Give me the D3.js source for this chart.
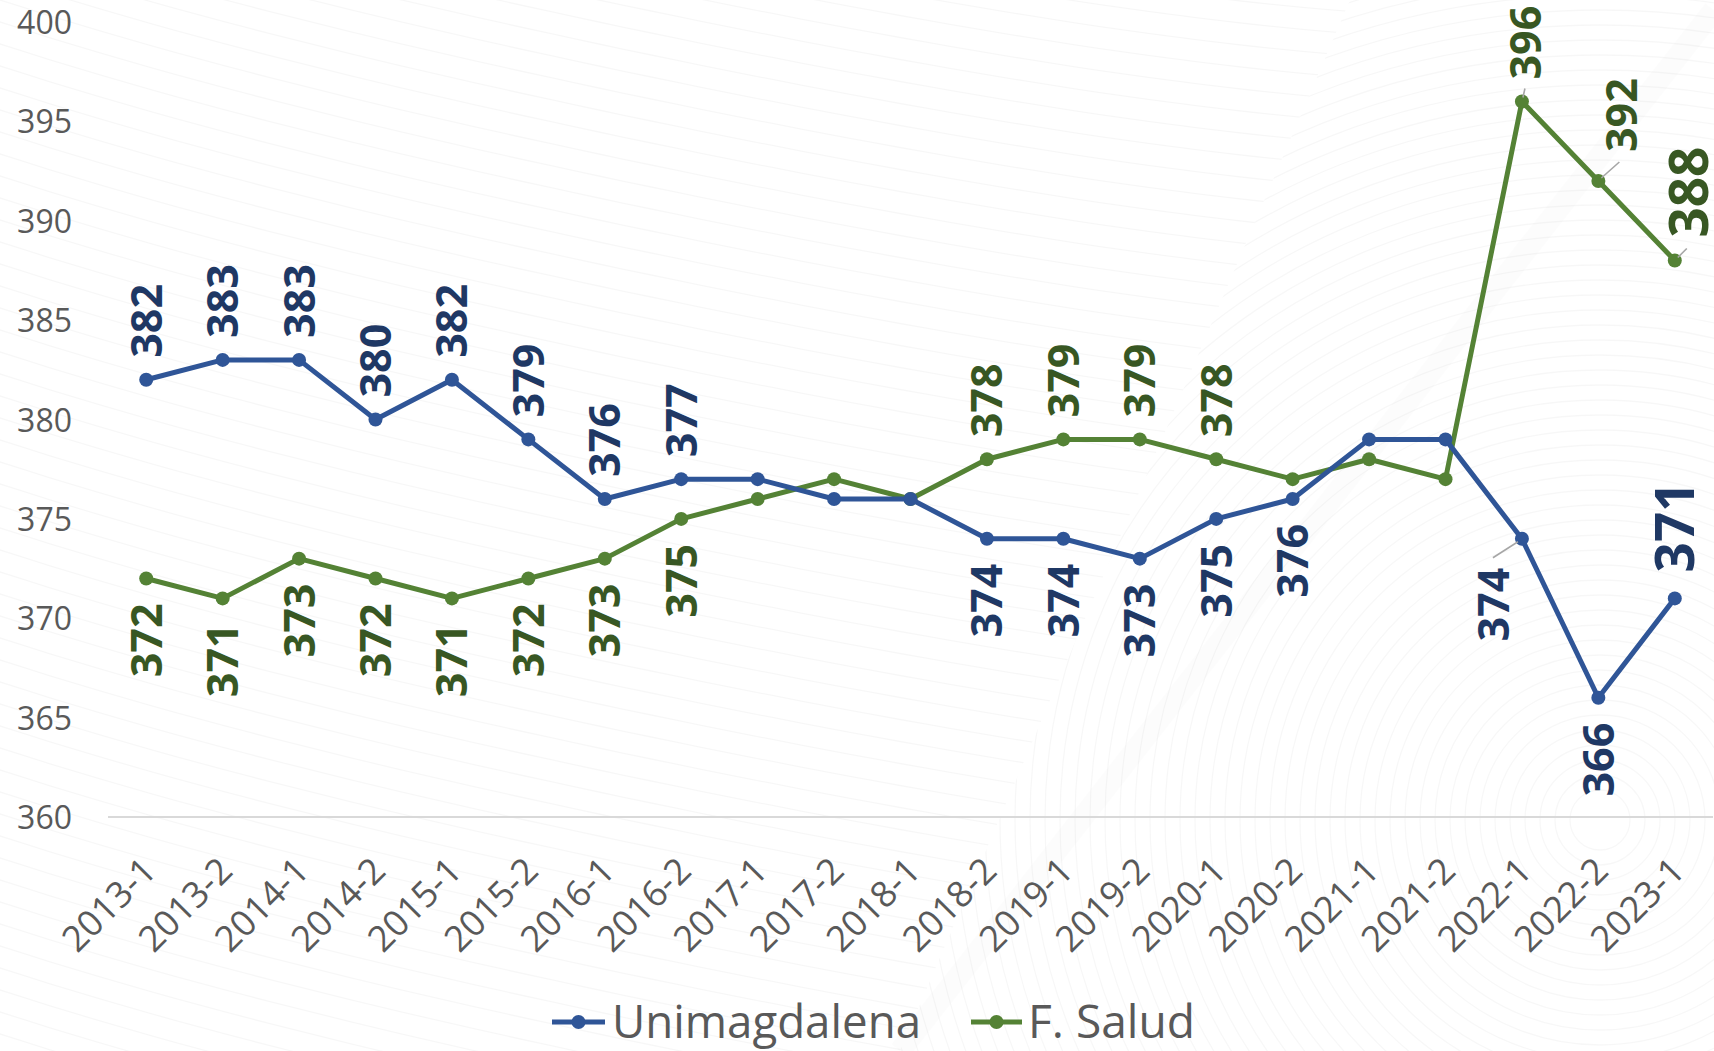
<!DOCTYPE html>
<html>
<head>
<meta charset="utf-8">
<script src="https://cdn.jsdelivr.net/npm/d3@7/dist/d3.min.js"></script>
<style>
  html, body { margin: 0; padding: 0; background: #ffffff; }
  svg { display: block; }
</style>
</head>
<body>
<svg id="chart" width="1714" height="1051"></svg>
<script>
// ---------- DATA ----------
const categories = ["2013-1","2013-2","2014-1","2014-2","2015-1","2015-2","2016-1","2016-2",
  "2017-1","2017-2","2018-1","2018-2","2019-1","2019-2","2020-1","2020-2",
  "2021-1","2021-2","2022-1","2022-2","2023-1"];
const unimagdalena = [382,383,383,380,382,379,376,377,377,376,376,374,374,373,375,376,379,379,374,366,371];
const fSalud       = [372,371,373,372,371,372,373,375,376,377,376,378,379,379,378,377,378,377,396,392,388];
const yTicks = [360,365,370,375,380,385,390,395,400];
const seriesNames = ["Unimagdalena","F. Salud"];

// label placement per point: "a" above, "b" below, "" none
const uniLabelSide   = ["a","a","a","a","a","a","a","a","","","","b","b","b","b","b","","","b","b","a"];
const saludLabelSide = ["b","b","b","b","b","b","b","b","","","","a","a","a","a","","","","a","a","a"];

// ---------- LAYOUT / STYLE ----------
const W = 1714, H = 1051;
const plot = { left: 108, right: 1713, top: 22, bottom: 817 };
const colors = {
  uniLine: "#2F5597", uniLabel: "#1F3864",
  salLine: "#548235", salLabel: "#385723",
  axisText: "#595959", grid: "#D9D9D9", leader: "#A6A6A6"
};
// special label tweaks (pixel offsets relative to the point), keyed by "series:index"
const special = {
  "0:18": { dx: -28, off: 29, leader: [[-4, 3], [-29, 19]] },
  "0:20": { big: true, off: 26 },
  "1:18": { dx: 4, off: 22, leader: [[1, -4], [3, -13]] },
  "1:19": { dx: 23, off: 29, leader: [[3, -3], [21, -19]] },
  "1:20": { dx: 14, off: 23, big: true, leader: [[3, -3], [12, -12]] }
};

const svg = d3.select("#chart");

// ---------- BACKGROUND DECORATION ----------
const bg = svg.append("g").attr("class", "bg");
bg.append("rect").attr("width", W).attr("height", H).attr("fill", "#ffffff");
const defs = svg.append("defs");
defs.append("clipPath").attr("id", "rightClip")
  .append("path").attr("d", "M900,1051 L1714,1051 L1714,0 L1350,0 Z");
defs.append("clipPath").attr("id", "leftClip")
  .append("path").attr("d", "M0,0 L1350,0 L900,1051 L0,1051 Z");
const waveG = bg.append("g").attr("clip-path", "url(#leftClip)");
for (let i = -30; i < 70; i++) {
  const pts = d3.range(-50, 1500, 25).map(x => [x, i * 22 + 0.42 * x * (1 - x / 2600) - 40 * Math.sin(x / 420)]);
  waveG.append("path")
    .attr("d", d3.line().curve(d3.curveBasis)(pts))
    .attr("fill", "none").attr("stroke", "#000").attr("stroke-opacity", 0.03).attr("stroke-width", 1.3);
}
const arcG = bg.append("g").attr("clip-path", "url(#rightClip)");
for (let r = 30; r < 1100; r += 15) {
  arcG.append("circle").attr("cx", 1600).attr("cy", 820).attr("r", r)
    .attr("fill", "none").attr("stroke", "#000").attr("stroke-opacity", 0.03).attr("stroke-width", 1.3);
}
bg.append("line").attr("x1", 900).attr("y1", 1051).attr("x2", 1714).attr("y2", 10)
  .attr("stroke", "#000").attr("stroke-opacity", 0.012).attr("stroke-width", 22);

// ---------- SCALES ----------
const x = d3.scaleBand().domain(categories).range([plot.left, plot.right]).padding(0);
const cx = c => x(c) + x.bandwidth() / 2;
const y = d3.scaleLinear().domain([360, 400]).range([plot.bottom, plot.top]);

// ---------- AXES ----------
const yAxis = d3.axisLeft(y).tickValues(yTicks).tickSize(0).tickPadding(0);
const yg = svg.append("g").attr("transform", "translate(72,0)").call(yAxis);
yg.select(".domain").remove();
yg.selectAll("text")
  .attr("font-family", "'Open Sans', sans-serif").attr("font-size", 32)
  .attr("fill", colors.axisText).attr("dy", "0.36em").attr("x", 0);

// baseline gridline (only the 360 line is visible)
svg.append("line")
  .attr("x1", plot.left).attr("x2", plot.right)
  .attr("y1", y(360)).attr("y2", y(360))
  .attr("stroke", colors.grid).attr("stroke-width", 2);

const xAxis = d3.axisBottom(x).tickSize(0).tickPadding(0);
const xg = svg.append("g").call(xAxis);
xg.select(".domain").remove();
xg.selectAll(".tick").attr("transform", d => `translate(${cx(d) + 12},873)`);
xg.selectAll("text")
  .attr("font-family", "'Open Sans', sans-serif").attr("font-size", 36)
  .attr("fill", colors.axisText)
  .attr("text-anchor", "end").attr("dy", 0).attr("y", 0)
  .attr("transform", "rotate(-45)");

// ---------- SERIES ----------
const series = [
  { name: seriesNames[0], values: unimagdalena, sides: uniLabelSide, line: colors.uniLine, label: colors.uniLabel },
  { name: seriesNames[1], values: fSalud, sides: saludLabelSide, line: colors.salLine, label: colors.salLabel }
];
const line = d3.line().x((d, i) => cx(categories[i])).y(d => y(d));

[1, 0].forEach(si => {
  const s = series[si];
  const g = svg.append("g");
  g.append("path").datum(s.values).attr("d", line)
    .attr("fill", "none").attr("stroke", s.line).attr("stroke-width", 5)
    .attr("stroke-linejoin", "round");
  g.selectAll("circle").data(s.values).join("circle")
    .attr("cx", (d, i) => cx(categories[i])).attr("cy", d => y(d))
    .attr("r", 7).attr("fill", s.line);
});

// labels
series.forEach((s, si) => {
  const g = svg.append("g");
  s.values.forEach((v, i) => {
    const side = s.sides[i];
    if (!side) return;
    const sp = special[si + ":" + i] || {};
    const px = cx(categories[i]), py = y(v);
    const dx = sp.dx || 0;
    const off = sp.off || (side === "a" ? 22 : 25);
    const fs = sp.big ? 53 : 43;
    if (sp.leader) {
      g.append("line")
        .attr("x1", px + sp.leader[0][0]).attr("y1", py + sp.leader[0][1])
        .attr("x2", px + sp.leader[1][0]).attr("y2", py + sp.leader[1][1])
        .attr("stroke", colors.leader).attr("stroke-width", 1.6);
    }
    const ty = side === "a" ? py - off : py + off;
    g.append("text")
      .attr("transform", `translate(${px + dx},${ty}) rotate(-90)`)
      .attr("text-anchor", side === "a" ? "start" : "end")
      .attr("dy", "0.36em")
      .attr("font-family", "'Open Sans', sans-serif").attr("font-weight", 700)
      .attr("font-size", fs).attr("fill", s.label)
      .text(v);
  });
});

// ---------- LEGEND ----------
const legend = svg.append("g");
const legendItems = [
  { name: seriesNames[0], color: colors.uniLine, x1: 552, x2: 605, tx: 612, tw: 309 },
  { name: seriesNames[1], color: colors.salLine, x1: 971, x2: 1022, tx: 1028, tw: 167 }
];
legendItems.forEach(it => {
  legend.append("line").attr("x1", it.x1).attr("x2", it.x2).attr("y1", 1022).attr("y2", 1022)
    .attr("stroke", it.color).attr("stroke-width", 5);
  legend.append("circle").attr("cx", (it.x1 + it.x2) / 2).attr("cy", 1022).attr("r", 7).attr("fill", it.color);
  legend.append("text").attr("x", it.tx).attr("y", 1038)
    .attr("font-family", "'Open Sans', sans-serif").attr("font-size", 45)
    .attr("fill", colors.axisText)
    .attr("textLength", it.tw).attr("lengthAdjust", "spacingAndGlyphs")
    .text(it.name);
});
</script>
</body>
</html>
